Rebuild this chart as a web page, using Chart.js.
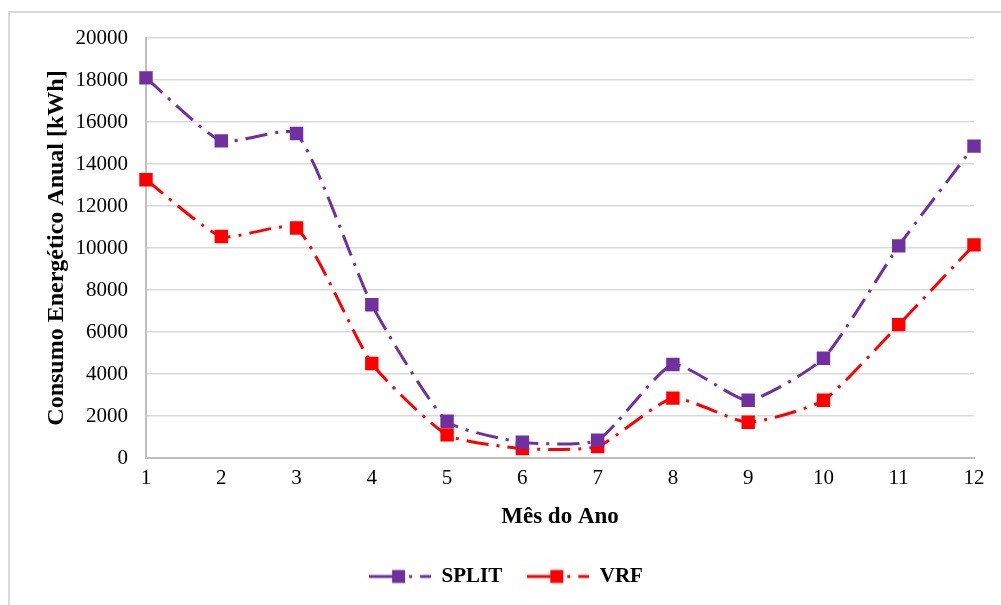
<!DOCTYPE html>
<html>
<head>
<meta charset="utf-8">
<script src="https://cdn.jsdelivr.net/npm/chart.js@4.4.1/dist/chart.umd.min.js"></script>
<style>
  html, body { margin: 0; padding: 0; background: #fff; }
  #wrap { position: relative; width: 1001px; height: 605px; overflow: hidden; }
  #frame { position: absolute; left: 8px; top: 11px; width: 1100px; height: 700px;
           border-left: 2px solid #d9d9d9; border-top: 2px solid #d9d9d9; box-sizing: border-box; }
  canvas { position: absolute; left: 0; top: 0; }
</style>
</head>
<body>
<div id="wrap">
  <div id="frame"></div>
  <canvas id="c" width="1001" height="605"></canvas>
</div>
<script>
const months = ['1','2','3','4','5','6','7','8','9','10','11','12'];
const splitValues = [18100, 15100, 15450, 7300, 1750, 750, 850, 4450, 2750, 4750, 10100, 14850];
const vrfValues   = [13250, 10550, 10950, 4500, 1100, 450, 550, 2850, 1700, 2750, 6350, 10150];
const yTicks = [0, 2000, 4000, 6000, 8000, 10000, 12000, 14000, 16000, 18000, 20000];
const seriesNames = ['SPLIT', 'VRF'];
const seriesColors = ['#7030A0', '#FF0000'];

const SERIF = '"Liberation Serif", "Times New Roman", serif';

function legendSymbol(color) {
  const cv = document.createElement('canvas');
  cv.width = 62; cv.height = 16;
  const g = cv.getContext('2d');
  g.strokeStyle = color; g.fillStyle = color; g.lineWidth = 3;
  g.beginPath(); g.moveTo(0, 8); g.lineTo(34, 8); g.stroke();
  g.fillRect(23, 1.5, 13, 13);
  g.beginPath(); g.moveTo(40, 8); g.lineTo(43, 8); g.stroke();
  g.beginPath(); g.moveTo(51, 8); g.lineTo(62, 8); g.stroke();
  return cv;
}

const datasets = [splitValues, vrfValues].map((vals, i) => ({
  label: seriesNames[i],
  data: vals,
  borderColor: seriesColors[i],
  backgroundColor: seriesColors[i],
  borderWidth: 3,
  borderDash: [22, 8, 3, 8],
  tension: 0.18,
  pointStyle: 'rect',
  pointRadius: 9.5,
  pointHoverRadius: 9.5,
  pointBorderWidth: 0,
  pointBackgroundColor: seriesColors[i],
  legendImg: legendSymbol(seriesColors[i]),
  fill: false
}));

new Chart(document.getElementById('c'), {
  type: 'line',
  data: { labels: months, datasets },
  options: {
    responsive: false,
    animation: false,
    events: [],
    layout: { padding: { left: 38, right: 27, top: 38, bottom: 8 } },
    plugins: {
      tooltip: { enabled: false },
      legend: {
        position: 'bottom',
        labels: {
          usePointStyle: true,
          pointStyleWidth: 62,
          boxHeight: 16,
          padding: 25,
          color: '#000',
          font: { family: SERIF, size: 21, weight: 'bold' },
          generateLabels: (chart) => chart.data.datasets.map((ds, i) => ({
            text: ds.label,
            pointStyle: ds.legendImg,
            fillStyle: ds.borderColor,
            strokeStyle: ds.borderColor,
            lineWidth: 0,
            fontColor: '#000',
            datasetIndex: i,
            hidden: false
          }))
        }
      }
    },
    scales: {
      x: {
        type: 'category',
        offset: false,
        grid: { display: false, drawTicks: false },
        border: { display: true, color: '#bfbfbf', width: 2 },
        ticks: { color: '#000', padding: 8, maxRotation: 0, autoSkip: false,
                 font: { family: SERIF, size: 21 } },
        title: { display: true, text: 'Mês do Ano', color: '#000',
                 padding: { top: 4, bottom: 10 },
                 font: { family: SERIF, size: 23, weight: 'bold' } },
        afterFit: (s) => { s.height = 83; }
      },
      y: {
        min: 0, max: 20000,
        afterBuildTicks: (s) => { s.ticks = yTicks.map(v => ({ value: v })); },
        grid: { color: '#d9d9d9', lineWidth: 1.5, drawTicks: false },
        border: { display: true, color: '#bfbfbf', width: 2 },
        ticks: { color: '#000', padding: 18, callback: (v) => String(v),
                 font: { family: SERIF, size: 21 } },
        title: { display: true, text: 'Consumo Energético Anual [kWh]', color: '#000',
                 padding: { top: 4, bottom: 4 },
                 font: { family: SERIF, size: 24, weight: 'bold' } },
        afterFit: (s) => { s.width = 108; }
      }
    }
  }
});
</script>
</body>
</html>
